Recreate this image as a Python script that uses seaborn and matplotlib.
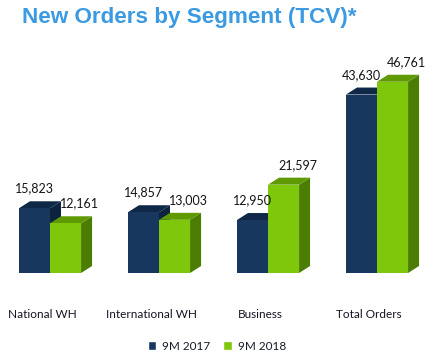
import pandas as pd
import seaborn as sns
import matplotlib.pyplot as plt
import matplotlib.transforms as mtransforms
from matplotlib.patches import Polygon

segments = ["National WH", "International WH", "Business", "Total Orders"]
periods = ["9M 2017", "9M 2018"]
orders_2017 = [15823, 14857, 12950, 43630]
orders_2018 = [12161, 13003, 21597, 46761]

front_colors = ["#17375e", "#7ec70a"]
top_colors = ["#0f2847", "#5f9a05"]
side_colors = ["#0c223e", "#4b7d03"]

df = pd.DataFrame({
    "segment": segments * 2,
    "period": [periods[0]] * 4 + [periods[1]] * 4,
    "value": orders_2017 + orders_2018,
})

sns.set_style("white")
plt.rcParams['font.family'] = ['Lato', 'DejaVu Sans']

fig = plt.figure(figsize=(4.39, 3.58), dpi=100)
ax = fig.add_axes([0, 85 / 358, 1, 213 / 358])

sns.barplot(data=df, x="segment", y="value", hue="period", hue_order=periods,
            palette=front_colors, saturation=1, width=0.57, ax=ax)

ax.set_xlim(-50 / 109, 389 / 109)
ax.set_ylim(0, 52078)

# depth of the fake 3D faces, in pixels -> data units
inv = ax.transData.inverted()
x0, y0 = inv.transform((0, 0))
x1, y1 = inv.transform((11, 7))
ddx, ddy = x1 - x0, y1 - y0

label_shift = [0, 10]
for i, cont in enumerate(ax.containers):
    base_z = 2 + 2 * i
    for bar in cont:
        bx, bw, bh = bar.get_x(), bar.get_width(), bar.get_height()
        top = Polygon([(bx, bh), (bx + bw, bh), (bx + bw + ddx, bh + ddy), (bx + ddx, bh + ddy)],
                      closed=True, facecolor=top_colors[i], edgecolor="none", zorder=base_z)
        side = Polygon([(bx + bw, 0), (bx + bw + ddx, ddy), (bx + bw + ddx, bh + ddy), (bx + bw, bh)],
                       closed=True, facecolor=side_colors[i], edgecolor="none", zorder=base_z)
        ax.add_patch(side)
        ax.add_patch(top)
        bar.set_zorder(base_z + 1)
        bar.set_edgecolor("none")
        ax.annotate(f"{int(bh):,}", (bx + bw / 2, bh), xytext=(label_shift[i], 10),
                    textcoords="offset points", ha="center", va="bottom",
                    fontsize=9, color="#141414", zorder=10)

handles, labels = ax.get_legend_handles_labels()
ax.get_legend().remove()
fig.legend(handles, labels, loc="center", bbox_to_anchor=(0.494, 1 - 346 / 358),
           ncol=2, frameon=False, fontsize=8.5, handlelength=0.7, handleheight=0.7,
           handletextpad=0.5, columnspacing=1.1, labelcolor="#141c28")

ax.set_xlabel("")
ax.set_ylabel("")
ax.set_yticks([])
ax.tick_params(axis="x", length=0, pad=26, labelsize=8.5, labelcolor="#141424")
offset = mtransforms.ScaledTranslation(-8 / 100, 0, fig.dpi_scale_trans)
for lbl in ax.get_xticklabels():
    lbl.set_transform(lbl.get_transform() + offset)
sns.despine(ax=ax, left=True, bottom=True)

fig.text(22 / 439, 1 - 18 / 358, "New Orders by Segment (TCV)*", ha="left", va="center",
         fontsize=16.2, fontweight="bold", color="#3b9ae1", family=["Liberation Sans", "DejaVu Sans"])

fig.savefig("out.png", dpi=100)
